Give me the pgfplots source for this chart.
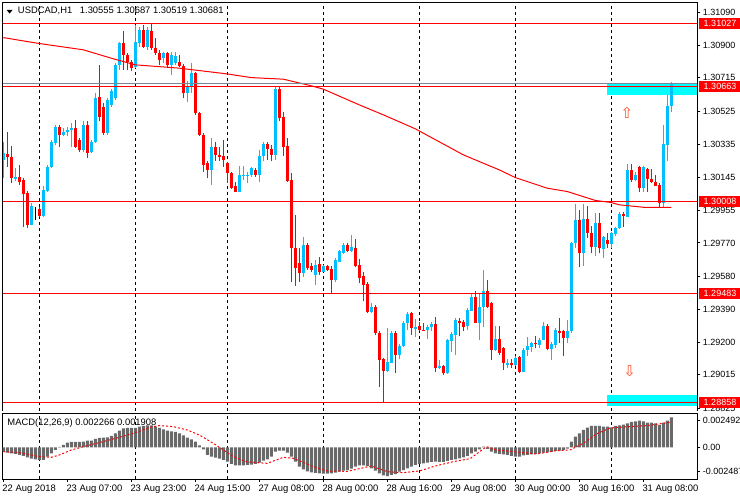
\documentclass[border=0pt]{standalone}
\usepackage{pgfplots}
\pgfplotsset{compat=1.18}
\usepackage{pgfplotstable}
\usepackage{fontspec}
\setmainfont{Liberation Sans}
\newfontfamily\djv{DejaVu Sans}
\definecolor{bullblue}{RGB}{0,191,255}
\definecolor{bearred}{RGB}{255,0,0}
\definecolor{aquabox}{RGB}{0,255,255}
\definecolor{slategrey}{RGB}{119,136,153}
\definecolor{macdgray}{RGB}{105,105,105}
\definecolor{arrowcol}{RGB}{255,80,40}
\newcommand{\lf}{\fontsize{9bp}{11bp}\selectfont}
\newcommand{\tf}{\fontsize{9.4bp}{11bp}\selectfont}

\pgfplotstableread{
x o h l c
0 1.30245 1.30348 1.30140 1.30285
3 1.30137 1.30199 1.30125 1.30148
7 1.29873 1.29999 1.29870 1.29982
10 1.29925 1.30096 1.29919 1.30074
11 1.30068 1.30217 1.30062 1.30205
12 1.30205 1.30354 1.30199 1.30348
13 1.30341 1.30445 1.30331 1.30436
15 1.30388 1.30426 1.30379 1.30407
16 1.30407 1.30436 1.30379 1.30417
17 1.30417 1.30455 1.30321 1.30426
20 1.30302 1.30465 1.30293 1.30445
22 1.30293 1.30360 1.30283 1.30350
23 1.30350 1.30627 1.30341 1.30598
26 1.30398 1.30598 1.30388 1.30589
27 1.30560 1.30646 1.30550 1.30640
28 1.30598 1.30798 1.30589 1.30789
29 1.30789 1.30922 1.30762 1.30913
33 1.30779 1.31018 1.30770 1.30922
34 1.30913 1.31008 1.30894 1.30989
36 1.30894 1.31008 1.30875 1.30989
40 1.30827 1.30861 1.30798 1.30856
42 1.30789 1.30865 1.30732 1.30846
43 1.30798 1.30865 1.30789 1.30842
46 1.30627 1.30694 1.30575 1.30665
47 1.30665 1.30798 1.30627 1.30741
52 1.30188 1.30369 1.30102 1.30321
59 1.30064 1.30211 1.30060 1.30159
60 1.30156 1.30211 1.30131 1.30159
61 1.30156 1.30178 1.30112 1.30161
62 1.30159 1.30207 1.30150 1.30198
64 1.30159 1.30302 1.30121 1.30268
65 1.30268 1.30350 1.30241 1.30337
68 1.30274 1.30661 1.30245 1.30651
75 1.29597 1.29806 1.29574 1.29759
78 1.29587 1.29673 1.29530 1.29644
80 1.29606 1.29644 1.29602 1.29635
83 1.29555 1.29677 1.29549 1.29673
84 1.29663 1.29724 1.29660 1.29721
85 1.29711 1.29768 1.29705 1.29759
87 1.29721 1.29816 1.29717 1.29749
92 1.29377 1.29425 1.29368 1.29406
96 1.29038 1.29282 1.29034 1.29091
97 1.29085 1.29263 1.29082 1.29257
99 1.29129 1.29187 1.29104 1.29181
100 1.29181 1.29320 1.29177 1.29314
101 1.29310 1.29377 1.29272 1.29364
103 1.29276 1.29333 1.29234 1.29291
106 1.29272 1.29301 1.29221 1.29291
107 1.29288 1.29320 1.29263 1.29307
109 1.29053 1.29101 1.29049 1.29063
111 1.29024 1.29217 1.29020 1.29213
112 1.29206 1.29253 1.29148 1.29249
113 1.29244 1.29333 1.29129 1.29330
116 1.29295 1.29396 1.29272 1.29387
117 1.29383 1.29482 1.29381 1.29463
119 1.29314 1.29482 1.29213 1.29406
120 1.29402 1.29616 1.29291 1.29492
123 1.29158 1.29295 1.29152 1.29221
126 1.29072 1.29104 1.29053 1.29085
128 1.29072 1.29120 1.29068 1.29114
130 1.29034 1.29162 1.29030 1.29158
131 1.29158 1.29234 1.29120 1.29181
132 1.29177 1.29200 1.29148 1.29196
134 1.29187 1.29221 1.29167 1.29217
135 1.29217 1.29320 1.29213 1.29295
137 1.29162 1.29196 1.29101 1.29192
138 1.29187 1.29282 1.29167 1.29271
141 1.29225 1.29330 1.29196 1.29267
142 1.29263 1.29772 1.29253 1.29768
143 1.29768 1.29993 1.29740 1.29902
145 1.29711 1.29993 1.29639 1.29908
148 1.29749 1.29940 1.29696 1.29886
150 1.29736 1.29806 1.29682 1.29803
152 1.29763 1.29829 1.29740 1.29826
153 1.29822 1.29860 1.29810 1.29854
154 1.29854 1.29940 1.29848 1.29936
156 1.29917 1.30220 1.29917 1.30188
158 1.30131 1.30173 1.30127 1.30159
160 1.30083 1.30203 1.30064 1.30203
165 1.30001 1.30445 1.29969 1.30337
166 1.30331 1.30617 1.30236 1.30554
167 1.30555 1.30687 1.30519 1.30681
}\bull

\pgfplotstableread{
x o h l c
1 1.30280 1.30405 1.30205 1.30262
2 1.30262 1.30325 1.30114 1.30140
4 1.30148 1.30217 1.30102 1.30119
5 1.30131 1.30131 1.29862 1.30051
6 1.30056 1.30056 1.29856 1.29873
9 1.29965 1.29965 1.29919 1.29925
14 1.30436 1.30445 1.30321 1.30388
18 1.30426 1.30474 1.30312 1.30321
19 1.30360 1.30369 1.30293 1.30302
21 1.30445 1.30465 1.30255 1.30283
24 1.30606 1.30789 1.30465 1.30491
25 1.30549 1.30570 1.30388 1.30398
30 1.30913 1.30980 1.30762 1.30846
31 1.30846 1.30856 1.30762 1.30808
32 1.30808 1.30817 1.30751 1.30770
35 1.30989 1.31018 1.30884 1.30894
37 1.30980 1.31027 1.30875 1.30884
38 1.30884 1.30942 1.30846 1.30856
39 1.30856 1.30875 1.30789 1.30817
41 1.30856 1.30865 1.30779 1.30789
44 1.30808 1.30846 1.30779 1.30785
45 1.30785 1.30789 1.30598 1.30627
48 1.30741 1.30741 1.30503 1.30512
49 1.30512 1.30522 1.30379 1.30388
50 1.30388 1.30398 1.30178 1.30217
51 1.30226 1.30236 1.30140 1.30188
53 1.30321 1.30350 1.30236 1.30274
54 1.30274 1.30321 1.30236 1.30264
55 1.30268 1.30360 1.30207 1.30245
56 1.30226 1.30226 1.30112 1.30169
57 1.30169 1.30169 1.30079 1.30083
58 1.30093 1.30121 1.30060 1.30064
63 1.30188 1.30198 1.30150 1.30159
66 1.30337 1.30341 1.30245 1.30306
67 1.30306 1.30331 1.30236 1.30274
69 1.30651 1.30665 1.30465 1.30486
70 1.30491 1.30522 1.30268 1.30320
71 1.30325 1.30369 1.30121 1.30125
72 1.30131 1.30169 1.29549 1.29740
73 1.29740 1.29930 1.29524 1.29625
74 1.29654 1.29740 1.29549 1.29597
76 1.29759 1.29763 1.29616 1.29625
77 1.29635 1.29654 1.29606 1.29616
79 1.29650 1.29692 1.29587 1.29606
81 1.29635 1.29644 1.29610 1.29616
82 1.29620 1.29635 1.29482 1.29555
86 1.29759 1.29768 1.29717 1.29721
88 1.29740 1.29791 1.29631 1.29635
89 1.29641 1.29677 1.29539 1.29568
90 1.29581 1.29606 1.29435 1.29530
91 1.29536 1.29539 1.29368 1.29377
93 1.29406 1.29410 1.29244 1.29253
94 1.29257 1.29263 1.28948 1.29101
95 1.29104 1.29110 1.28862 1.29038
98 1.29257 1.29263 1.29028 1.29129
102 1.29368 1.29372 1.29244 1.29282
104 1.29295 1.29320 1.29263 1.29269
105 1.29272 1.29314 1.29263 1.29267
108 1.29307 1.29345 1.29034 1.29053
110 1.29063 1.29066 1.29015 1.29024
114 1.29324 1.29339 1.29238 1.29314
115 1.29320 1.29330 1.29263 1.29291
118 1.29463 1.29492 1.29310 1.29314
121 1.29492 1.29558 1.29396 1.29406
122 1.29425 1.29429 1.29101 1.29158
124 1.29221 1.29295 1.29129 1.29139
125 1.29167 1.29171 1.29043 1.29082
127 1.29082 1.29104 1.29053 1.29072
129 1.29116 1.29120 1.29024 1.29034
133 1.29196 1.29238 1.29167 1.29190
136 1.29295 1.29301 1.29158 1.29162
139 1.29267 1.29343 1.29196 1.29257
140 1.29263 1.29267 1.29120 1.29225
144 1.29902 1.29959 1.29630 1.29711
146 1.29908 1.29984 1.29797 1.29826
147 1.29826 1.29864 1.29711 1.29745
149 1.29886 1.29940 1.29711 1.29740
151 1.29787 1.29826 1.29740 1.29763
155 1.29936 1.29940 1.29860 1.29925
157 1.30188 1.30222 1.30121 1.30131
159 1.30203 1.30203 1.30064 1.30083
161 1.30192 1.30198 1.30064 1.30135
162 1.30135 1.30192 1.30112 1.30116
163 1.30121 1.30159 1.30093 1.30093
164 1.30102 1.30102 1.29969 1.30001
}\bear

\pgfplotstableread{
x o h l c
8 1.29959 1.29976 1.29902 1.29959
}\doji

\pgfplotstableread{
x y
0 1.30945
9 1.30911
20 1.30875
27 1.30827
33 1.30789
44 1.30770
56 1.30737
62 1.30716
70 1.30707
77 1.30669
80 1.30650
89 1.30560
95 1.30503
103 1.30423
115 1.30274
120 1.30226
124 1.30188
128 1.30144
136 1.30083
141 1.30064
148 1.30013
152 1.30001
154 1.29988
160 1.29974
167 1.29974
}\ma

\pgfplotstableread{
x v
0 -0.000327
1 -0.000403
2 -0.000453
3 -0.000503
4 -0.000579
5 -0.000654
6 -0.000755
7 -0.000856
8 -0.000906
9 -0.000956
10 -0.000956
11 -0.000705
12 -0.000453
13 -0.000201
14 0.000025
15 0.000176
16 0.000352
17 0.000403
18 0.000403
19 0.000403
20 0.000428
21 0.000503
22 0.000503
23 0.000629
24 0.000705
25 0.000730
26 0.000755
27 0.000856
28 0.001057
29 0.001259
30 0.001435
31 0.001460
32 0.001460
33 0.001460
34 0.001561
35 0.001611
36 0.001661
37 0.001661
38 0.001561
39 0.001460
40 0.001359
41 0.001259
42 0.001208
43 0.001158
44 0.001057
45 0.000906
46 0.000730
47 0.000604
48 0.000428
49 0.000151
50 -0.000151
51 -0.000579
52 -0.000705
53 -0.000780
54 -0.000856
55 -0.000956
56 -0.001082
57 -0.001259
58 -0.001359
59 -0.001359
60 -0.001359
61 -0.001334
62 -0.001309
63 -0.001259
64 -0.001158
65 -0.001007
66 -0.000906
67 -0.000705
68 -0.000327
69 -0.000252
70 -0.000252
71 -0.000403
72 -0.000705
73 -0.001082
74 -0.001460
75 -0.001661
76 -0.001812
77 -0.001888
78 -0.001938
79 -0.001963
80 -0.001988
81 -0.001988
82 -0.001963
83 -0.001913
84 -0.001837
85 -0.001762
86 -0.001712
87 -0.001611
88 -0.001460
89 -0.001359
90 -0.001359
91 -0.001410
92 -0.001586
93 -0.001762
94 -0.001963
95 -0.002114
96 -0.002165
97 -0.002089
98 -0.002014
99 -0.001837
100 -0.001712
101 -0.001586
102 -0.001460
103 -0.001334
104 -0.001259
105 -0.001208
106 -0.001158
107 -0.001107
108 -0.001082
109 -0.001107
110 -0.001107
111 -0.001032
112 -0.000956
113 -0.000906
114 -0.000831
115 -0.000755
116 -0.000654
117 -0.000453
118 -0.000327
119 -0.000151
120 0.000050
121 -0.000126
122 -0.000327
123 -0.000453
124 -0.000503
125 -0.000529
126 -0.000579
127 -0.000654
128 -0.000705
129 -0.000705
130 -0.000604
131 -0.000579
132 -0.000529
133 -0.000503
134 -0.000453
135 -0.000403
136 -0.000378
137 -0.000352
138 -0.000277
139 -0.000252
140 -0.000201
141 -0.000101
142 0.000428
143 0.000805
144 0.001057
145 0.001309
146 0.001485
147 0.001611
148 0.001611
149 0.001611
150 0.001561
151 0.001561
152 0.001510
153 0.001611
154 0.001661
155 0.001712
156 0.001812
157 0.001913
158 0.001963
159 0.002014
160 0.001963
161 0.001863
162 0.001863
163 0.001812
164 0.001686
165 0.001863
166 0.002014
167 0.002266
}\macd

\pgfplotstableread{
x s
0 -0.000327
4 -0.000403
9 -0.000705
12 -0.000755
14 -0.000579
17 -0.000201
20 0.000050
24 0.000352
29 0.000755
32.5 0.001057
36.7 0.001510
39 0.001636
42.5 0.001561
46 0.001309
49 0.000931
52.5 0.000302
57.5 -0.000705
61 -0.001107
66 -0.001208
70 -0.000755
72.5 -0.000831
77.5 -0.001460
81 -0.001787
86 -0.001812
92 -0.001410
96 -0.001837
100 -0.001913
104 -0.001787
108 -0.001410
112.5 -0.001082
116.7 -0.000856
120.8 0.000050
123.3 -0.000201
127.5 -0.000327
133.3 -0.000503
138.3 -0.000252
141.7 -0.000201
145 0.000302
148.3 0.001007
151.7 0.001460
156.7 0.001561
160.8 0.001636
165 0.001812
167 0.001908
}\signal

\pgfplotsset{
  wick/.style={draw=none, mark=none, forget plot, error bars/.cd, y dir=plus, y explicit, error mark=none,
    error bar style={draw=#1, line width=1bp}},
  body/.style={draw=none, mark=none, forget plot, error bars/.cd, y dir=plus, y explicit, error mark=-,
    error mark options={draw=#1, line width=1bp, mark size=1.5bp},
    error bar style={draw=#1, line width=3bp}},
}

\begin{document}
\begin{tikzpicture}
\useasboundingbox (0,0) rectangle (740bp,500bp);
\fill[white] (0,0) rectangle (740bp,500bp);

\begin{axis}[
  at={(2.7bp,89bp)}, anchor=south west,
  width=694.6bp, height=408.7bp, scale only axis,
  xmin=-0.15, xmax=173.5, ymin=1.28808, ymax=1.31147,
  axis line style={draw=none},
  clip mode=individual,
  xtick={9,33,56,80,104,128,152}, xticklabels={},
  xtick style={draw=none},
  xmajorgrids,
  grid style={black, line width=0.9bp, dash pattern=on 3bp off 3bp},
  ytick={1.28825,1.29015,1.29200,1.29390,1.29580,1.29770,1.29955,1.30145,1.30335,1.30525,1.30715,1.30900,1.31090},
  yticklabels={1.28825,1.29015,1.29200,1.29390,1.29580,1.29770,1.29955,1.30145,1.30335,1.30525,1.30715,1.30900,1.31090},
  ytick pos=right, yticklabel pos=right,
  tick align=outside, major tick length=3bp,
  ytick style={black, line width=0.9bp},
  yticklabel style={anchor=west, inner sep=0pt, xshift=2.4bp, font=\lf},
  scaled y ticks=false,
]
% cyan zones
\addplot[fill=aquabox, draw=none] coordinates {(150.85,1.30617) (174,1.30617) (174,1.30687) (150.85,1.30687)} -- cycle;
\addplot[fill=aquabox, draw=none] coordinates {(150.85,1.28837) (174,1.28837) (174,1.28900) (150.85,1.28900)} -- cycle;

% candles: wicks
\addplot[wick=bullblue] table[x=x, y=l, y error expr=\thisrow{h}-\thisrow{l}] {\bull};
\addplot[wick=bearred] table[x=x, y=l, y error expr=\thisrow{h}-\thisrow{l}] {\bear};
\addplot[wick=black] table[x=x, y=l, y error expr=\thisrow{h}-\thisrow{l}] {\doji};
% candles: bodies
\addplot[body=bullblue] table[x=x, y=o, y error expr=\thisrow{c}-\thisrow{o}] {\bull};
\addplot[body=bearred] table[x=x, y=c, y error expr=\thisrow{o}-\thisrow{c}] {\bear};
\addplot[body=black] table[x=x, y=c, y error expr=\thisrow{o}-\thisrow{c}] {\doji};

% moving average
\addplot[bearred, line width=1bp, mark=none] table[x=x, y=y] {\ma};

% horizontal levels
\addplot[bearred, line width=1bp, mark=none] coordinates {(-1,1.31027) (175,1.31027)};
\addplot[slategrey, line width=1bp, mark=none] coordinates {(-1,1.30681) (175,1.30681)};
\addplot[bearred, line width=1bp, mark=none] coordinates {(-1,1.30663) (175,1.30663)};
\addplot[bearred, line width=1bp, mark=none] coordinates {(-1,1.30008) (175,1.30008)};
\addplot[bearred, line width=1bp, mark=none] coordinates {(-1,1.29483) (175,1.29483)};
\addplot[bearred, line width=1bp, mark=none] coordinates {(-1,1.28858) (175,1.28858)};

% arrows
\node[text=arrowcol, font=\djv\fontsize{15bp}{15bp}\selectfont, inner sep=0pt] at (axis cs:155.9,1.30517) {⇧};
\node[text=arrowcol, font=\djv\fontsize{15bp}{15bp}\selectfont, inner sep=0pt] at (axis cs:156.6,1.29034) {⇩};

% frame
\draw[black, line width=1bp] (rel axis cs:0,0) -- (rel axis cs:0,1) -- (rel axis cs:1,1) -- (rel axis cs:1,0);

% price boxes
\node[fill=bearred, text=white, anchor=west, inner sep=0pt, minimum height=11bp, minimum width=43bp, font=\lf, xshift=1bp] at (axis cs:173.5,1.31027) {1.31027};
\node[fill=bearred, text=white, anchor=west, inner sep=0pt, minimum height=11bp, minimum width=43bp, font=\lf, xshift=1bp] at (axis cs:173.5,1.30663) {1.30663};
\node[fill=bearred, text=white, anchor=west, inner sep=0pt, minimum height=11bp, minimum width=43bp, font=\lf, xshift=1bp] at (axis cs:173.5,1.30008) {1.30008};
\node[fill=bearred, text=white, anchor=west, inner sep=0pt, minimum height=11bp, minimum width=43bp, font=\lf, xshift=1bp] at (axis cs:173.5,1.29483) {1.29483};
\node[fill=bearred, text=white, anchor=west, inner sep=0pt, minimum height=11bp, minimum width=43bp, font=\lf, xshift=1bp] at (axis cs:173.5,1.28858) {1.28858};
\end{axis}

\begin{axis}[
  at={(2.7bp,21bp)}, anchor=south west,
  width=694.6bp, height=65.7bp, scale only axis,
  xmin=-0.15, xmax=173.5, ymin=-0.002391, ymax=0.002567,
  axis line style={black, line width=1bp},
  xtick={0,16,32,48,64,80,96,112,128,144,160},
  xticklabels={22 Aug 2018,23 Aug 07:00,23 Aug 23:00,24 Aug 15:00,27 Aug 08:00,28 Aug 00:00,28 Aug 16:00,29 Aug 08:00,30 Aug 00:00,30 Aug 16:00,31 Aug 08:00},
  xtick pos=bottom,
  minor xtick={9,33,56,80,104,128,152},
  xminorgrids, minor tick length=0pt,
  minor grid style={black, line width=0.9bp, dash pattern=on 3bp off 3bp},
  ytick={-0.001837,0,0.002014},
  yticklabels={-0.002487,0.00,0.002492},
  ytick pos=right, yticklabel pos=right,
  tick align=outside, major tick length=3bp,
  tick style={black, line width=0.9bp},
  yticklabel style={anchor=west, inner sep=0pt, xshift=2.4bp, font=\lf},
  xticklabel style={anchor=north west, inner sep=0pt, xshift=-1bp, yshift=-2.9bp, font=\tf},
  scaled y ticks=false,
]
\addplot[ybar, bar width=3bp, fill=macdgray, draw=none] table[x=x, y=v] {\macd};
\addplot[bearred, line width=1bp, dash pattern=on 2bp off 2bp, mark=none] table[x=x, y=s] {\signal};
\end{axis}

% header texts
\fill[black] (6.7bp,490bp) -- (12.5bp,490bp) -- (9.6bp,486.4bp) -- cycle;
\node[anchor=west, inner sep=0pt, font=\tf] at (17.8bp,489.3bp) {USDCAD,H1\hspace{5bp} 1.30555 1.30687 1.30519 1.30681};
\node[anchor=west, inner sep=0pt, font=\tf] at (7.3bp,77.3bp) {MACD(12,26,9) 0.002266 0.001908};
\end{tikzpicture}
\end{document}
